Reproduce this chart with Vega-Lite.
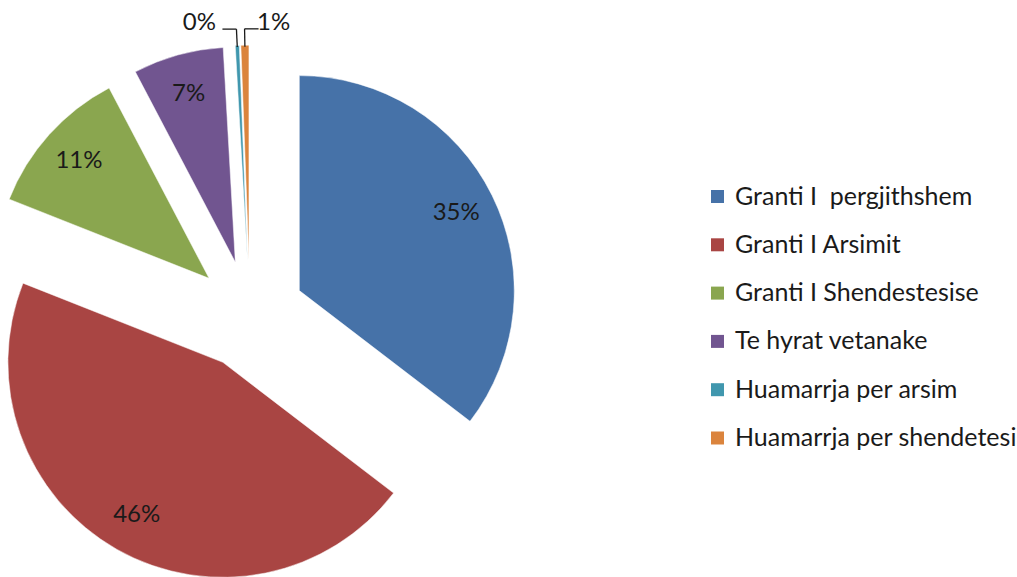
{
  "$schema": "https://vega.github.io/schema/vega-lite/v6.json",
  "width": 1017,
  "height": 577,
  "autosize": {"type": "fit", "contains": "padding"},
  "padding": 0,
  "background": "white",
  "config": {
    "view": {"stroke": null},
    "font": "Lato",
    "legend": {
      "orient": "none",
      "legendX": 705,
      "legendY": 184,
      "symbolType": "square",
      "symbolSize": 169,
      "symbolStrokeWidth": 0,
      "symbolOpacity": 1,
      "labelFont": "Lato",
      "labelFontSize": 25,
      "labelColor": "#1a1a1a",
      "labelOffset": 5,
      "rowPadding": 22.3,
      "labelLimit": 400
    }
  },
  "data": {
    "values": [
      {"source": "Granti I\u00a0 pergjithshem", "share": 0.354, "order": 1},
      {"source": "Granti I Arsimit", "share": 0.456, "order": 2},
      {"source": "Granti I Shendestesise", "share": 0.113, "order": 3},
      {"source": "Te hyrat vetanake", "share": 0.068, "order": 4},
      {"source": "Huamarrja per arsim", "share": 0.003, "order": 5},
      {"source": "Huamarrja per shendetesi", "share": 0.006, "order": 6}
    ]
  },
  "transform": [
    {"stack": "share", "groupby": [], "sort": [{"field": "order", "order": "ascending"}], "as": ["t0", "t1"]},
    {"calculate": "(datum.t0 + datum.t1) / 2", "as": "tm"},
    {"calculate": "55 * sin(2 * PI * datum.tm)", "as": "ex"},
    {"calculate": "55 * cos(2 * PI * datum.tm)", "as": "ey"},
    {"calculate": "datum.ex + 215 * sin(2 * PI * datum.tm)", "as": "lx1"},
    {"calculate": "datum.ey + 215 * cos(2 * PI * datum.tm)", "as": "ly1"},
    {"calculate": "datum.ex + 233 * sin(2 * PI * datum.tm)", "as": "lx2"},
    {"calculate": "datum.ey + 233 * cos(2 * PI * datum.tm)", "as": "ly2"},
    {"calculate": "datum.share < 0.005 ? -1 : 1", "as": "side"},
    {"calculate": "datum.lx2 + 14 * datum.side", "as": "hx"},
    {"calculate": "datum.lx2 + (datum.side < 0 ? -37 : 29)", "as": "tx"}
  ],
  "layer": [
    {
      "mark": {"type": "arc", "radius": 215, "stroke": "white", "strokeWidth": 0.5},
      "encoding": {
        "x": {"field": "ex", "type": "quantitative", "scale": {"domain": [-250, 767]}, "axis": null},
        "y": {"field": "ey", "type": "quantitative", "scale": {"domain": [-260, 317]}, "axis": null},
        "theta": {"field": "t0", "type": "quantitative", "stack": null, "scale": {"domain": [0, 1], "range": [0, 6.283185307179586]}},
        "theta2": {"field": "t1"},
        "color": {
          "field": "source",
          "type": "nominal",
          "scale": {
            "domain": ["Granti I\u00a0 pergjithshem", "Granti I Arsimit", "Granti I Shendestesise", "Te hyrat vetanake", "Huamarrja per arsim", "Huamarrja per shendetesi"],
            "range": ["#4672A8", "#A94543", "#8AA64F", "#715590", "#4097AE", "#DB843D"]
          },
          "legend": {"title": null}
        }
      }
    },
    {
      "transform": [{"filter": "datum.share >= 0.01"}],
      "mark": {"type": "text", "radius": 175, "fontSize": 24, "font": "Lato", "color": "#1a1a1a", "align": "center", "baseline": "middle"},
      "encoding": {
        "x": {"field": "ex", "type": "quantitative", "scale": {"domain": [-250, 767]}, "axis": null},
        "y": {"field": "ey", "type": "quantitative", "scale": {"domain": [-260, 317]}, "axis": null},
        "theta": {"field": "tm", "type": "quantitative", "stack": null, "scale": {"domain": [0, 1], "range": [0, 6.283185307179586]}},
        "text": {"field": "share", "type": "quantitative", "format": ".0%"}
      }
    },
    {
      "transform": [{"filter": "datum.share < 0.01"}],
      "mark": {"type": "rule", "color": "#1a1a1a", "strokeWidth": 1.3},
      "encoding": {
        "x": {"field": "lx1", "type": "quantitative", "scale": {"domain": [-250, 767]}, "axis": null},
        "y": {"field": "ly1", "type": "quantitative", "scale": {"domain": [-260, 317]}, "axis": null},
        "x2": {"field": "lx2"},
        "y2": {"field": "ly2"}
      }
    },
    {
      "transform": [{"filter": "datum.share < 0.01"}],
      "mark": {"type": "rule", "color": "#1a1a1a", "strokeWidth": 1.3},
      "encoding": {
        "x": {"field": "lx2", "type": "quantitative", "scale": {"domain": [-250, 767]}, "axis": null},
        "y": {"field": "ly2", "type": "quantitative", "scale": {"domain": [-260, 317]}, "axis": null},
        "x2": {"field": "hx"}
      }
    },
    {
      "transform": [{"filter": "datum.share < 0.01"}],
      "mark": {"type": "text", "fontSize": 24, "font": "Lato", "color": "#1a1a1a", "align": "center", "baseline": "middle", "dy": -6},
      "encoding": {
        "x": {"field": "tx", "type": "quantitative", "scale": {"domain": [-250, 767]}, "axis": null},
        "y": {"field": "ly2", "type": "quantitative", "scale": {"domain": [-260, 317]}, "axis": null},
        "text": {"field": "share", "type": "quantitative", "format": ".0%"}
      }
    }
  ]
}
